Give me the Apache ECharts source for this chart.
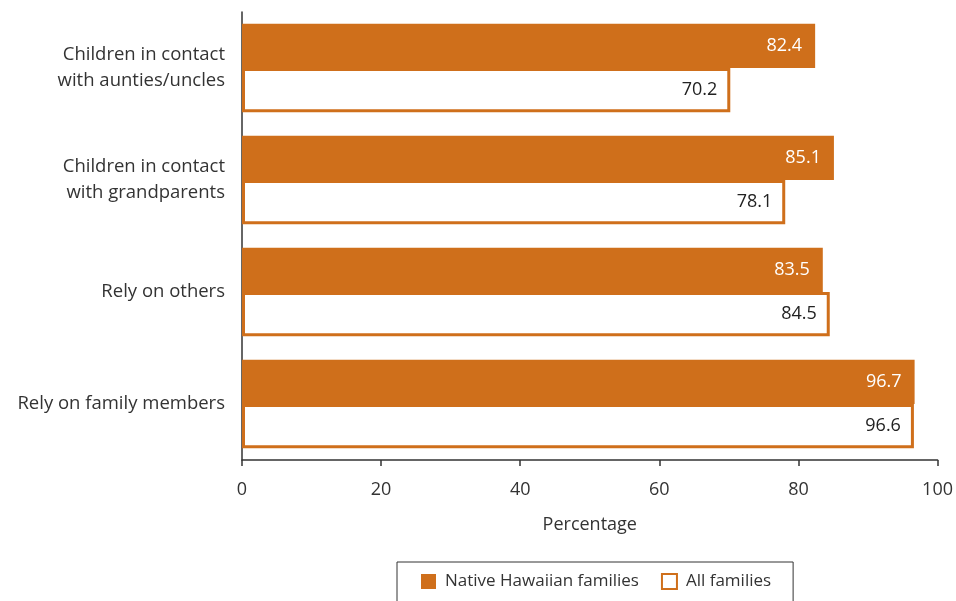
<!DOCTYPE html>
<html>
<head>
<meta charset="utf-8">
<script src="https://cdn.jsdelivr.net/npm/echarts@6/dist/echarts.min.js"></script>
<style>
  html, body { margin: 0; padding: 0; background: #fff; }
  #chart { width: 956px; height: 601px; }
</style>
</head>
<body>
<div id="chart"></div>
<script>
// Family contact and reliance indicators
const categories = [
  'Children in contact\nwith aunties/uncles',
  'Children in contact\nwith grandparents',
  'Rely on others',
  'Rely on family members'
];
const nativeHawaiian = [82.4, 85.1, 83.5, 96.7];
const allFamilies = [70.2, 78.1, 84.5, 96.6];
const seriesNames = ['Native Hawaiian families', 'All families'];
const xTicks = [0, 20, 40, 60, 80, 100];

const ORANGE = '#CF6F1B';
const FONT = '"Open Sans", "Noto Sans", sans-serif';

const chart = echarts.init(document.getElementById('chart'), null, { renderer: 'canvas' });

chart.setOption({
  animation: false,
  backgroundColor: '#fff',
  textStyle: { fontFamily: FONT },
  grid: { left: 242, right: 18, top: 12, bottom: 141, containLabel: false },
  legend: {
    data: [
      { name: seriesNames[0], itemStyle: { color: ORANGE, borderWidth: 0 } },
      { name: seriesNames[1], itemStyle: { color: '#fff', borderColor: ORANGE, borderWidth: 2 } }
    ],
    left: 397,
    top: 562,
    padding: [11, 22, 16, 24],
    itemGap: 22,
    itemWidth: 15,
    itemHeight: 15,
    icon: 'rect',
    borderColor: '#333',
    borderWidth: 1,
    textStyle: { fontFamily: FONT, fontSize: 17, color: '#333', padding: [0, 0, 0, 4] }
  },
  xAxis: {
    type: 'value',
    min: xTicks[0],
    max: xTicks[xTicks.length - 1],
    interval: 20,
    name: 'Percentage',
    nameLocation: 'middle',
    nameGap: 56,
    nameTextStyle: { fontFamily: FONT, fontSize: 18, color: '#333' },
    axisLine: { show: true, lineStyle: { color: '#333', width: 1.5 } },
    axisTick: { show: true, length: 6, lineStyle: { color: '#333', width: 1.5 } },
    axisLabel: { fontFamily: FONT, fontSize: 18, color: '#333', margin: 21 },
    splitLine: { show: false }
  },
  yAxis: {
    type: 'category',
    data: categories,
    inverse: true,
    axisLine: { show: true, lineStyle: { color: '#333', width: 1.5 } },
    axisTick: { show: false },
    axisLabel: { fontFamily: FONT, fontSize: 18.5, color: '#333', margin: 17, lineHeight: 26, align: 'right' }
  },
  series: [
    {
      name: seriesNames[0],
      type: 'bar',
      data: nativeHawaiian,
      barGap: '0%',
      barCategoryGap: '21%',
      itemStyle: { color: ORANGE },
      label: {
        show: true,
        position: 'insideRight',
        distance: 13,
        color: '#fff',
        fontFamily: FONT,
        fontSize: 18,
        formatter: p => p.value.toFixed(1)
      }
    },
    {
      name: seriesNames[1],
      type: 'bar',
      data: allFamilies,
      barGap: '0%',
      barCategoryGap: '21%',
      itemStyle: { color: '#fff', borderColor: ORANGE, borderWidth: 3 },
      label: {
        show: true,
        position: 'insideRight',
        distance: 13,
        color: '#222',
        fontFamily: FONT,
        fontSize: 18,
        formatter: p => p.value.toFixed(1)
      }
    }
  ]
});
</script>
</body>
</html>
